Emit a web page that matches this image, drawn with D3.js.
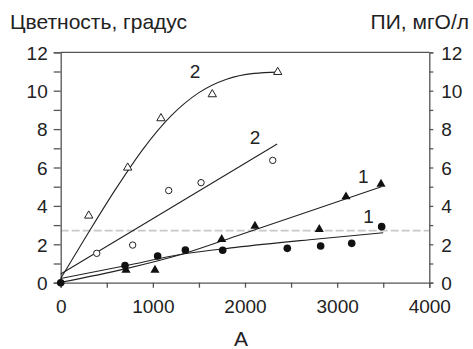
<!DOCTYPE html>
<html lang="ru">
<head>
  <meta charset="UTF-8" />
  <title>Цветность и ПИ</title>
  <script src="https://d3js.org/d3.v7.min.js"></script>
  <style>
    body { margin: 0; background: #fff; }
    svg { display: block; font-family: "Liberation Sans", Arial, sans-serif; }
    .tick-label { font-size: 19px; fill: #222; }
  </style>
</head>
<body>
  <svg id="chart" width="473" height="349"></svg>

  <script>
    // цветность (2) — открытые значки
    const openTriangles = [[304, 3.49], [727, 5.99], [1088, 8.56], [1645, 9.81], [2355, 10.97]];
    const openCircles = [[391, 1.53], [781, 1.96], [1172, 4.8], [1523, 5.21], [2301, 6.37]];
    // ПИ (1) — закрашенные значки
    const filledTriangles = [[709, 0.66], [1023, 0.66], [1747, 2.26], [2108, 2.95], [2806, 2.78], [3096, 4.48], [3476, 5.14]];
    const filledCircles = [[0, 0], [698, 0.89], [1052, 1.39], [1353, 1.70], [1758, 1.69], [2459, 1.79], [2821, 1.91], [3158, 2.05], [3483, 2.92]];

    // аппроксимирующие кривые
    const fitOpenTriangles = [[0, 0.22], [300, 2.6], [600, 4.9], [900, 7.0], [1200, 8.7], [1500, 9.9], [1800, 10.6], [2100, 10.9], [2355, 10.97]];
    const fitOpenCircles = [[0, 0.45], [2349, 7.22]];
    const fitFilledTriangles = [[0, 0.02], [700, 0.72], [1313, 1.48], [1900, 2.42], [2700, 3.72], [3480, 5.0]];
    const fitFilledCircles = [[0, 0.22], [700, 0.88], [1313, 1.48], [1900, 1.84], [2700, 2.24], [3500, 2.6]];

    const limitValue = 2.71;
    const xTicks = [0, 1000, 2000, 3000, 4000];
    const yTicks = [0, 2, 4, 6, 8, 10, 12];
    const curveLabels = [
      { text: '2', x: 1457, y: 11.0 },
      { text: '2', x: 2110, y: 7.6 },
      { text: '1', x: 3285, y: 5.55 },
      { text: '1', x: 3340, y: 3.45 }
    ];

    const svg = d3.select('#chart');
    const W = 473, H = 349;
    const margin = { top: 52.3, right: 43.7, bottom: 66.3, left: 60.7 };

    const x = d3.scaleLinear().domain([0, 4000]).range([margin.left, W - margin.right]);
    const y = d3.scaleLinear().domain([0, 12]).range([H - margin.bottom, margin.top]);

    const axisColor = '#555';

    // пороговая линия
    svg.append('line')
      .attr('x1', x(0)).attr('x2', x(4000))
      .attr('y1', y(limitValue)).attr('y2', y(limitValue))
      .attr('stroke', '#c8c8c8').attr('stroke-width', 1.6)
      .attr('stroke-dasharray', '8,3');

    // верхняя рамка
    svg.append('line')
      .attr('x1', x(0)).attr('x2', x(4000))
      .attr('y1', y(12)).attr('y2', y(12))
      .attr('stroke', axisColor).attr('stroke-width', 1.3);

    // оси
    function styleAxis(g) {
      g.selectAll('path, line').attr('stroke', axisColor).attr('stroke-width', 1.3);
      g.selectAll('text').attr('class', 'tick-label').attr('font-family', null).attr('font-size', null);
    }

    svg.append('g')
      .attr('transform', `translate(0,${y(0)})`)
      .call(d3.axisBottom(x).tickValues(d3.range(0, 4001, 500)).tickSizeOuter(0).tickSize(5)
        .tickFormat(d => xTicks.includes(d) ? d : ''))
      .call(styleAxis)
      .call(g => g.selectAll('text').attr('dy', 0).attr('y', 30.5));

    svg.append('g')
      .attr('transform', `translate(${x(0)},0)`)
      .call(d3.axisLeft(y).tickValues(d3.range(0, 13, 1)).tickSizeOuter(0).tickSize(7)
        .tickFormat(d => yTicks.includes(d) ? d : ''))
      .call(styleAxis)
      .call(g => g.selectAll('text').attr('x', -13).attr('dy', '0.36em'));

    svg.append('g')
      .attr('transform', `translate(${x(4000)},0)`)
      .call(d3.axisRight(y).tickValues(d3.range(0, 13, 1)).tickSizeOuter(0).tickSize(4)
        .tickFormat(d => yTicks.includes(d) ? d : ''))
      .call(styleAxis)
      .call(g => g.selectAll('text').attr('x', 12).attr('dy', '0.36em'));

    // кривые
    const line = d3.line().x(d => x(d[0])).y(d => y(d[1])).curve(d3.curveMonotoneX);
    [fitOpenTriangles, fitOpenCircles, fitFilledTriangles, fitFilledCircles].forEach(pts => {
      svg.append('path')
        .attr('d', line(pts))
        .attr('fill', 'none')
        .attr('stroke', '#222')
        .attr('stroke-width', 1.1);
    });

    // значки
    const tri = d3.symbol().type(d3.symbolTriangle);
    svg.append('g').selectAll('path')
      .data(openTriangles).join('path')
      .attr('d', tri.size(30)())
      .attr('transform', d => `translate(${x(d[0])},${y(d[1])})`)
      .attr('fill', '#fff').attr('stroke', '#222').attr('stroke-width', 1);

    svg.append('g').selectAll('path')
      .data(filledTriangles).join('path')
      .attr('d', tri.size(36)())
      .attr('transform', d => `translate(${x(d[0])},${y(d[1])})`)
      .attr('fill', '#111');

    svg.append('g').selectAll('circle')
      .data(openCircles).join('circle')
      .attr('cx', d => x(d[0])).attr('cy', d => y(d[1])).attr('r', 3.2)
      .attr('fill', '#fff').attr('stroke', '#222').attr('stroke-width', 1);

    svg.append('g').selectAll('circle')
      .data(filledCircles).join('circle')
      .attr('cx', d => x(d[0])).attr('cy', d => y(d[1])).attr('r', 3.8)
      .attr('fill', '#111');

    // подписи кривых
    svg.append('g').selectAll('text')
      .data(curveLabels).join('text')
      .attr('x', d => x(d.x)).attr('y', d => y(d.y))
      .attr('text-anchor', 'middle').attr('dy', '0.36em')
      .attr('font-size', 19).attr('fill', '#222')
      .text(d => d.text);

    // заголовки осей
    svg.append('text')
      .attr('x', 10).attr('y', 29)
      .attr('font-size', 21).attr('fill', '#222')
      .text('Цветность, градус');

    svg.append('text')
      .attr('x', 469).attr('y', 29)
      .attr('text-anchor', 'end')
      .attr('font-size', 21).attr('fill', '#222')
      .text('ПИ, мгО/л');

    svg.append('text')
      .attr('x', x(2000) - 4).attr('y', 346)
      .attr('text-anchor', 'middle')
      .attr('font-size', 21).attr('fill', '#222')
      .text('A');
  </script>
</body>
</html>
